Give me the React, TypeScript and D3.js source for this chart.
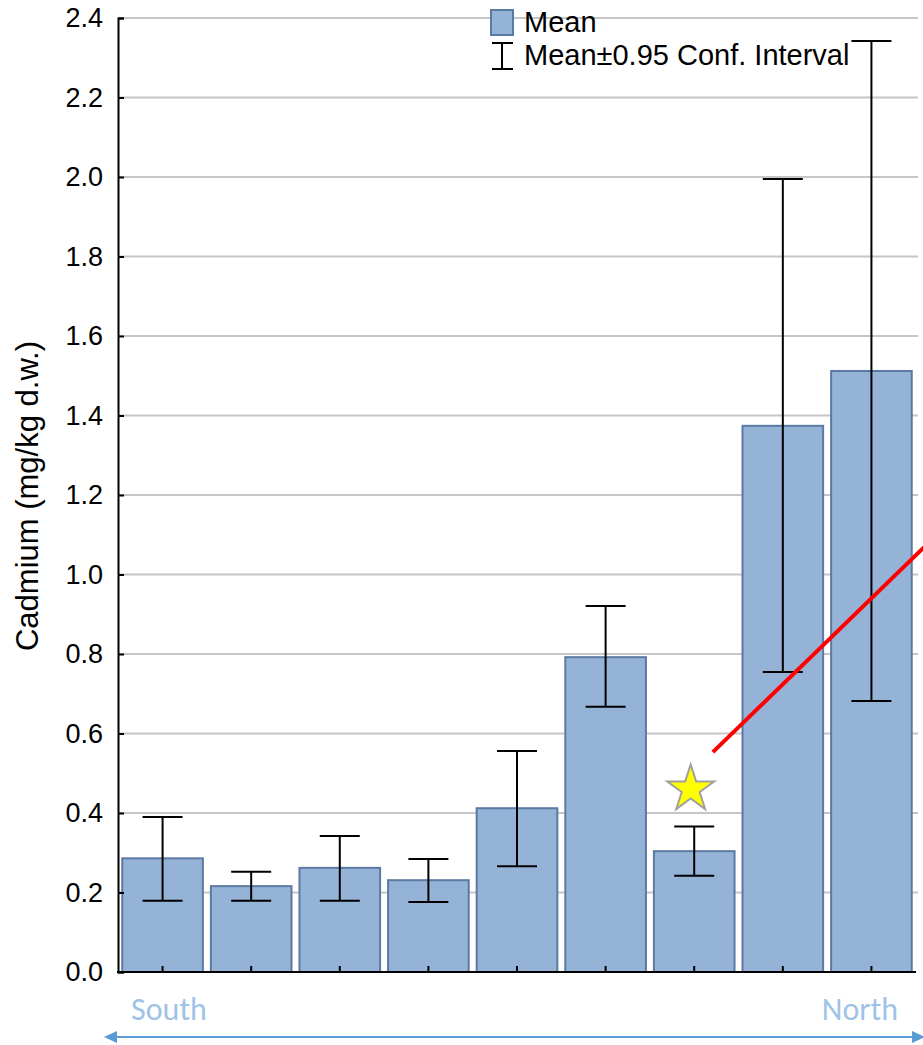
import { useEffect, useRef } from 'react'
import * as d3 from 'd3'

const sites = ['1', '2', '3', '4', '5', '6', '7', '8', '9']
const means = [0.286, 0.216, 0.262, 0.231, 0.412, 0.792, 0.304, 1.374, 1.512]
const ciLow = [0.179, 0.179, 0.179, 0.176, 0.266, 0.667, 0.242, 0.755, 0.682]
const ciHigh = [0.39, 0.252, 0.342, 0.284, 0.556, 0.921, 0.366, 1.995, 2.342]
const yTicks = [0, 0.2, 0.4, 0.6, 0.8, 1.0, 1.2, 1.4, 1.6, 1.8, 2.0, 2.2, 2.4]
// trend annotation in (site index, value) units
const trendLine = [[6.21, 0.553], [8.6, 1.07]]
const starPoint = [5.96, 0.46]

const W = 923
const H = 1045
const FONT = 'Arial, "Liberation Sans", sans-serif'

export default function App() {
  const svgRef = useRef<SVGSVGElement>(null)

  useEffect(() => {
    if (!svgRef.current) return
    const svg = d3.select(svgRef.current)
    svg.selectAll('*').remove()

    const x = d3.scaleBand().domain(sites).range([118, 916]).paddingInner(0.09).paddingOuter(0.048)
    const y = d3.scaleLinear().domain([0, 2.4]).range([972, 18])
    const bw = x.bandwidth()
    const cx = (i: number) => (x(sites[0]) as number) + bw / 2 + i * x.step()

    // Grid
    svg.append('g').selectAll('line').data(yTicks.slice(1)).join('line')
      .attr('x1', 118).attr('x2', 918)
      .attr('y1', d => y(d)).attr('y2', d => y(d))
      .attr('stroke', '#c6c6c6').attr('stroke-width', 2)

    // Bars
    svg.append('g').selectAll('rect').data(means).join('rect')
      .attr('x', (_, i) => x(sites[i]) as number)
      .attr('y', d => y(d))
      .attr('width', bw)
      .attr('height', d => y(0) - y(d))
      .attr('fill', '#95b3d7')
      .attr('stroke', '#5b7aa3').attr('stroke-width', 2)

    // Error bars
    const eb = svg.append('g').attr('stroke', '#000').attr('stroke-width', 2)
    sites.forEach((s, i) => {
      const c = (x(s) as number) + bw / 2
      eb.append('line').attr('x1', c).attr('x2', c).attr('y1', y(ciLow[i])).attr('y2', y(ciHigh[i]))
      ;[ciLow[i], ciHigh[i]].forEach(v => {
        eb.append('line').attr('x1', c - 20).attr('x2', c + 20).attr('y1', y(v)).attr('y2', y(v))
      })
    })

    // Axes
    const yAxis = d3.axisLeft(y).tickValues(yTicks).tickFormat(d3.format('.1f')).tickSize(-6).tickPadding(15)
    svg.append('g').attr('transform', 'translate(118,0)').call(yAxis)
      .call(ax => {
        ax.select('.domain').attr('stroke', '#000').attr('stroke-width', 2)
        ax.selectAll('.tick line').attr('stroke', '#000').attr('stroke-width', 2)
        ax.selectAll('text').attr('fill', '#000').attr('font-size', 27).attr('font-family', FONT)
      })

    const xAxis = d3.axisBottom(x).tickSize(-6).tickFormat(() => '')
    svg.append('g').attr('transform', `translate(0,${y(0)})`).call(xAxis)
      .call(ax => {
        ax.select('.domain').attr('stroke', '#000').attr('stroke-width', 2)
          .attr('d', 'M117,0H916')
        ax.selectAll('.tick line').attr('stroke', '#000').attr('stroke-width', 2)
      })

    svg.append('text')
      .attr('transform', `translate(38,${(y(0) + y(2.4)) / 2 + 1}) rotate(-90)`)
      .attr('text-anchor', 'middle').attr('font-size', 31).attr('font-family', FONT)
      .text('Cadmium (mg/kg d.w.)')

    // Trend line + star
    const xi = d3.scaleLinear().domain([0, 1]).range([cx(0), cx(1)])
    svg.append('line')
      .attr('x1', xi(trendLine[0][0])).attr('y1', y(trendLine[0][1]))
      .attr('x2', xi(trendLine[1][0])).attr('y2', y(trendLine[1][1]))
      .attr('stroke', '#ff0000').attr('stroke-width', 4)

    const star = d3.symbol().type(d3.symbolStar).size(680)
    svg.append('path')
      .attr('d', star())
      .attr('transform', `translate(${xi(starPoint[0])},${y(starPoint[1])})`)
      .attr('fill', '#ffff00').attr('stroke', '#a0a0a0').attr('stroke-width', 2)

    // Legend
    const lg = svg.append('g').attr('font-family', FONT).attr('font-size', 29)
    lg.append('rect').attr('x', 491).attr('y', 10).attr('width', 22).attr('height', 25)
      .attr('fill', '#95b3d7').attr('stroke', '#5b7aa3').attr('stroke-width', 2)
    lg.append('text').attr('x', 524).attr('y', 32).text('Mean')
    const li = lg.append('g').attr('stroke', '#000').attr('stroke-width', 2)
    li.append('line').attr('x1', 502).attr('x2', 502).attr('y1', 43).attr('y2', 69)
    li.append('line').attr('x1', 492).attr('x2', 513).attr('y1', 43).attr('y2', 43)
    li.append('line').attr('x1', 492).attr('x2', 513).attr('y1', 69).attr('y2', 69)
    lg.append('text').attr('x', 524).attr('y', 65).text('Mean±0.95 Conf. Interval')

    // South / North arrow
    const dir = svg.append('g').attr('font-family', 'Carlito, "Liberation Sans Narrow", "Open Sans", sans-serif')
      .attr('font-size', 32).attr('fill', '#9dc3e6')
    dir.append('text').attr('x', 131).attr('y', 1020).text('South')
    dir.append('text').attr('x', 898).attr('y', 1020).attr('text-anchor', 'end').text('North')
    svg.append('line').attr('x1', 112).attr('x2', 915).attr('y1', 1037).attr('y2', 1037)
      .attr('stroke', '#5b9bd5').attr('stroke-width', 2)
    svg.append('path').attr('d', 'M104,1037L117,1031L117,1043Z').attr('fill', '#5b9bd5')
    svg.append('path').attr('d', 'M925,1037L912,1031L912,1043Z').attr('fill', '#5b9bd5')
  }, [])

  return (
    <svg ref={svgRef} width={W} height={H}
      style={{ position: 'absolute', left: 0, top: 0, background: '#fff', display: 'block' }} />
  )
}
